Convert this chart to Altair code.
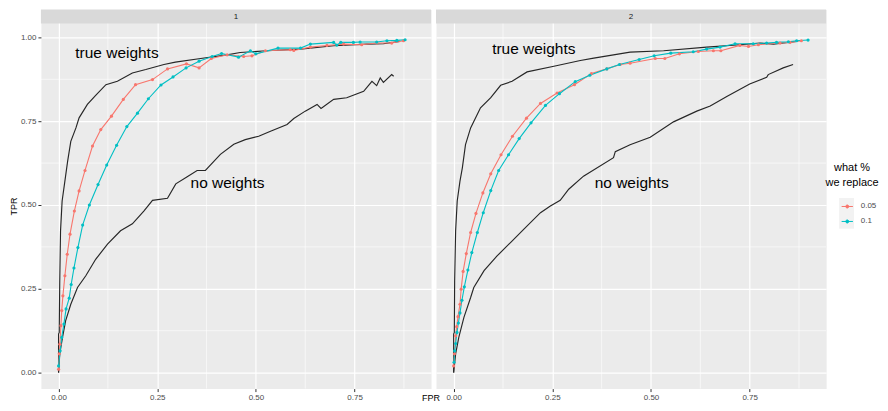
import altair as alt
import pandas as pd

# ---------------- data ----------------
panels = [1, 2]
pct_levels = ["0.05", "0.1"]
pct_colors = ["#F8766D", "#00BFC4"]
x_ticks = [0, 0.25, 0.5, 0.75]
y_ticks = [0, 0.25, 0.5, 0.75, 1.0]
minor_breaks = [0.125, 0.375, 0.625, 0.875]

# panel 1
p1_true_x = [0, 0, 0.0017, 0.003, 0.005, 0.009, 0.016, 0.023, 0.031, 0.044, 0.052, 0.073, 0.094, 0.12, 0.149,
             0.187, 0.221, 0.267, 0.296, 0.36, 0.427, 0.46, 0.528, 0.613, 0.697, 0.781, 0.823, 0.865]
p1_true_y = [0, 0.115, 0.12, 0.274, 0.423, 0.512, 0.571, 0.631, 0.69, 0.73, 0.76, 0.8, 0.827, 0.859, 0.869,
             0.894, 0.904, 0.919, 0.926, 0.937, 0.948, 0.955, 0.96, 0.965, 0.975, 0.98, 0.981, 0.988]
p1_none_x = [0, 0.003, 0.01, 0.018, 0.031, 0.048, 0.069, 0.094, 0.124, 0.157, 0.187, 0.216, 0.238, 0.276, 0.297,
             0.326, 0.351, 0.372, 0.41, 0.444, 0.473, 0.507, 0.537, 0.579, 0.596, 0.625, 0.655, 0.665, 0.697,
             0.73, 0.773, 0.794, 0.806, 0.815, 0.823, 0.844, 0.849]
p1_none_y = [0, 0.056, 0.105, 0.155, 0.204, 0.254, 0.289, 0.338, 0.383, 0.423, 0.444, 0.482, 0.514, 0.52, 0.563,
             0.584, 0.603, 0.603, 0.651, 0.681, 0.695, 0.705, 0.72, 0.74, 0.758, 0.78, 0.8, 0.788, 0.815,
             0.82, 0.839, 0.869, 0.856, 0.879, 0.866, 0.889, 0.884]
p1_05_x = [0, 0.0017, 0.0033, 0.006, 0.008, 0.011, 0.016, 0.022, 0.029, 0.04, 0.052, 0.067, 0.086, 0.107, 0.134,
           0.164, 0.195, 0.238, 0.276, 0.324, 0.356, 0.387, 0.427, 0.469, 0.49, 0.524, 0.587, 0.596, 0.638,
           0.68, 0.722, 0.768, 0.806, 0.844, 0.874]
p1_05_y = [0.01, 0.056, 0.085, 0.14, 0.185, 0.229, 0.289, 0.353, 0.413, 0.482, 0.542, 0.603, 0.676, 0.725, 0.765,
           0.815, 0.859, 0.874, 0.906, 0.921, 0.909, 0.937, 0.948, 0.943, 0.945, 0.96, 0.963, 0.961, 0.971,
           0.976, 0.98, 0.978, 0.983, 0.983, 0.99]
p1_10_x = [0, 0.004, 0.008, 0.0135, 0.019, 0.027, 0.032, 0.039, 0.049, 0.061, 0.078, 0.1, 0.122, 0.147, 0.173,
           0.2, 0.2275, 0.2595, 0.29, 0.323, 0.356, 0.389, 0.413, 0.456, 0.486, 0.5, 0.556, 0.613, 0.638,
           0.697, 0.705, 0.715, 0.747, 0.764, 0.806, 0.832, 0.857, 0.878]
p1_10_y = [0.02, 0.065, 0.105, 0.145, 0.19, 0.222, 0.263, 0.312, 0.373, 0.44, 0.5, 0.561, 0.619, 0.678, 0.734,
           0.774, 0.817, 0.858, 0.882, 0.909, 0.929, 0.943, 0.952, 0.941, 0.96, 0.951, 0.968, 0.968, 0.98,
           0.985, 0.977, 0.985, 0.985, 0.986, 0.986, 0.99, 0.991, 0.993]

# panel 2
p2_true_x = [0, 0, 0.0017, 0.0025, 0.005, 0.009, 0.016, 0.022, 0.03, 0.043, 0.068, 0.094, 0.119, 0.148, 0.186,
             0.254, 0.321, 0.355, 0.405, 0.447, 0.532, 0.641, 0.725, 0.776, 0.81, 0.869]
p2_true_y = [0, 0.115, 0.12, 0.274, 0.423, 0.512, 0.571, 0.611, 0.68, 0.73, 0.79, 0.82, 0.857, 0.869, 0.897,
             0.914, 0.931, 0.938, 0.948, 0.956, 0.96, 0.971, 0.978, 0.983, 0.98, 0.988]
p2_none_x = [0, 0.005, 0.013, 0.026, 0.043, 0.051, 0.077, 0.11, 0.144, 0.178, 0.22, 0.245, 0.27, 0.2915, 0.329,
             0.405, 0.4095, 0.447, 0.498, 0.557, 0.616, 0.65, 0.692, 0.75, 0.793, 0.797, 0.835, 0.86]
p2_none_y = [0, 0.056, 0.105, 0.165, 0.224, 0.254, 0.304, 0.348, 0.388, 0.428, 0.477, 0.497, 0.514, 0.547, 0.586,
             0.641, 0.659, 0.68, 0.702, 0.748, 0.78, 0.795, 0.824, 0.861, 0.881, 0.889, 0.909, 0.919]
p2_05_x = [0, 0.002, 0.005, 0.0076, 0.011, 0.016, 0.019, 0.024, 0.032, 0.043, 0.0565, 0.074, 0.094, 0.12, 0.149,
           0.1845, 0.22, 0.262, 0.306, 0.349, 0.388, 0.422, 0.447, 0.511, 0.535, 0.572, 0.62, 0.658, 0.677,
           0.725, 0.747, 0.772, 0.827, 0.852, 0.881]
p2_05_y = [0.02, 0.056, 0.11, 0.137, 0.167, 0.204, 0.249, 0.302, 0.355, 0.418, 0.475, 0.536, 0.593, 0.65, 0.705,
           0.759, 0.803, 0.834, 0.859, 0.892, 0.906, 0.919, 0.923, 0.937, 0.937, 0.951, 0.958, 0.96, 0.96,
           0.976, 0.973, 0.978, 0.983, 0.985, 0.99]
p2_10_x = [0.001, 0.0025, 0.005, 0.0084, 0.012, 0.016, 0.021, 0.027, 0.036, 0.046, 0.06, 0.075, 0.094, 0.114,
           0.139, 0.166, 0.196, 0.2326, 0.268, 0.308, 0.345, 0.388, 0.42, 0.47, 0.508, 0.55, 0.607, 0.641,
           0.675, 0.713, 0.759, 0.793, 0.818, 0.848, 0.869, 0.898]
p2_10_y = [0.031, 0.065, 0.087, 0.12, 0.148, 0.178, 0.216, 0.256, 0.306, 0.358, 0.418, 0.477, 0.543, 0.603,
           0.65, 0.698, 0.745, 0.797, 0.832, 0.868, 0.887, 0.906, 0.919, 0.934, 0.945, 0.953, 0.957, 0.965,
           0.971, 0.981, 0.981, 0.983, 0.985, 0.987, 0.99, 0.992]

# annotations: (panel, text, x, y)
label_panel = [1, 1, 2, 2]
label_text = ["true weights", "no weights", "true weights", "no weights"]
label_x = [0.148, 0.428, 0.203, 0.451]
label_y = [0.952, 0.567, 0.966, 0.567]

axis_x_title = "FPR"
axis_y_title = "TPR"
legend_title = ["what %", "we replace"]

# ---------------- build the tables ----------------
curves = {
    1: [("true", "black", p1_true_x, p1_true_y), ("none", "black", p1_none_x, p1_none_y),
        ("0.05", "pct", p1_05_x, p1_05_y), ("0.1", "pct", p1_10_x, p1_10_y)],
    2: [("true", "black", p2_true_x, p2_true_y), ("none", "black", p2_none_x, p2_none_y),
        ("0.05", "pct", p2_05_x, p2_05_y), ("0.1", "pct", p2_10_x, p2_10_y)],
}


def panel_frame(p):
    rows = []
    for s, k, xs, ys in curves[p]:
        for i, (xv, yv) in enumerate(zip(xs, ys)):
            rows.append(dict(series=s, kind=k, x=xv, y=yv, order=i, label=""))
    for m in minor_breaks:
        rows.append(dict(series="", kind="minorx", x=m, y=0, order=0, label=""))
        rows.append(dict(series="", kind="minory", x=0, y=m, order=0, label=""))
    rows.append(dict(series="", kind="strip", x=0, y=0, order=0, label=str(p)))
    for lp, t, xv, yv in zip(label_panel, label_text, label_x, label_y):
        if lp == p:
            rows.append(dict(series="", kind="label", x=xv, y=yv, order=0, label=t))
    if p == 1:
        rows.append(dict(series="", kind="xtitle", x=0, y=0, order=0, label=axis_x_title))
    if p == 2:
        rows.append(dict(series="", kind="keybox", x=0, y=0, order=0, label=""))
        rows.append(dict(series="", kind="ltitle1", x=0, y=0, order=0, label=legend_title[0]))
        rows.append(dict(series="", kind="ltitle2", x=0, y=0, order=1, label=legend_title[1]))
    return pd.DataFrame(rows)


W, H = 391, 380
FONT = "Liberation Sans"

xscale = alt.Scale(domain=[-0.0447, 0.9437], nice=False, zero=False)
yscale = alt.Scale(domain=[-0.0476, 1.0833], nice=False, zero=False)

color = alt.Color(
    "series:N",
    scale=alt.Scale(domain=pct_levels, range=pct_colors),
    legend=alt.Legend(
        title=None, orient="none", legendX=801.7, legendY=191,
        labelFontSize=8, labelColor="#4D4D4D", labelFont=FONT, labelOffset=7,
        symbolType="M-1,0L1,0M0.27,0A0.27,0.27,0,1,1,-0.27,0A0.27,0.27,0,1,1,0.27,0Z",
        symbolSize=128, symbolStrokeWidth=1, rowPadding=4,
    ),
)


def make_panel(p):
    data = panel_frame(p)
    if p == 1:
        yaxis = alt.Axis(values=y_ticks, format=".2f", title=axis_y_title, titleY=197, titlePadding=2)
    else:
        yaxis = alt.Axis(values=y_ticks, labels=False, ticks=False, title=None)
    X = alt.X("x:Q", scale=xscale, axis=alt.Axis(values=x_ticks, format=".2f", title=None))
    Y = alt.Y("y:Q", scale=yscale, axis=yaxis)
    base = alt.Chart(data)
    minor_x = base.transform_filter(alt.datum.kind == "minorx").mark_rule(
        color="white", strokeWidth=0.6).encode(x=alt.X("x:Q", scale=xscale))
    minor_y = base.transform_filter(alt.datum.kind == "minory").mark_rule(
        color="white", strokeWidth=0.6).encode(y=alt.Y("y:Q", scale=yscale))
    black = base.transform_filter(alt.datum.kind == "black").mark_line(
        color="#262626", strokeWidth=1.15).encode(x=X, y=Y, detail="series:N", order="order:Q")
    pct = base.transform_filter(alt.datum.kind == "pct").mark_line(
        strokeWidth=1.1, point=alt.OverlayMarkDef(filled=True, size=10, opacity=1)
    ).encode(x=X, y=Y, color=color, order="order:Q")
    labels = base.transform_filter(alt.datum.kind == "label").mark_text(
        fontSize=15.5, font=FONT, color="black", align="center", baseline="middle"
    ).encode(x=alt.X("x:Q", scale=xscale), y=alt.Y("y:Q", scale=yscale), text="label:N")
    strip = base.transform_filter(alt.datum.kind == "strip").mark_rect(color="#D9D9D9").encode(
        x=alt.value(0), x2=alt.value(W), y=alt.value(0), y2=alt.value(14))
    strip_text = base.transform_filter(alt.datum.kind == "strip").mark_text(
        fontSize=8, font=FONT, color="#1A1A1A", align="center", baseline="middle").encode(
        x=alt.value(W / 2), y=alt.value(7.5), text="label:N")
    layers = [minor_x, minor_y, black, pct, labels, strip, strip_text]
    if p == 1:
        xtitle = base.transform_filter(alt.datum.kind == "xtitle").mark_text(
            fontSize=9, font=FONT, color="black", align="center", baseline="middle").encode(
            x=alt.value(W), y=alt.value(H + 9.5), text="label:N")
        layers.append(xtitle)
    else:
        keybox = base.transform_filter(alt.datum.kind == "keybox").mark_rect(color="#F2F2F2").encode(
            x=alt.value(404), x2=alt.value(419), y=alt.value(189), y2=alt.value(219.7))
        lt1 = base.transform_filter(alt.datum.kind == "ltitle1").mark_text(
            fontSize=11, font=FONT, color="black", align="center", baseline="middle").encode(
            x=alt.value(417), y=alt.value(158.7), text="label:N")
        lt2 = base.transform_filter(alt.datum.kind == "ltitle2").mark_text(
            fontSize=11, font=FONT, color="black", align="center", baseline="middle").encode(
            x=alt.value(417), y=alt.value(173.5), text="label:N")
        layers.insert(0, keybox)
        layers += [lt1, lt2]
    return alt.layer(*layers).properties(width=W, height=H)


chart = alt.hconcat(make_panel(1), make_panel(2), spacing=5).properties(
    padding={"left": 0, "top": 0, "right": 0, "bottom": 0},
    bounds="flush",
).configure_view(
    fill="#EBEBEB", stroke="transparent"
).configure_axis(
    gridColor="white", gridWidth=1.2, domain=False, tickColor="#333333", tickSize=3, tickWidth=1,
    labelColor="#4D4D4D", labelFontSize=8, labelFont=FONT, labelPadding=2,
    titleFont=FONT, titleFontSize=9, titleFontWeight="normal", titleColor="black",
)

chart.save("out.html", embed_options={"renderer": "svg", "actions": False})
